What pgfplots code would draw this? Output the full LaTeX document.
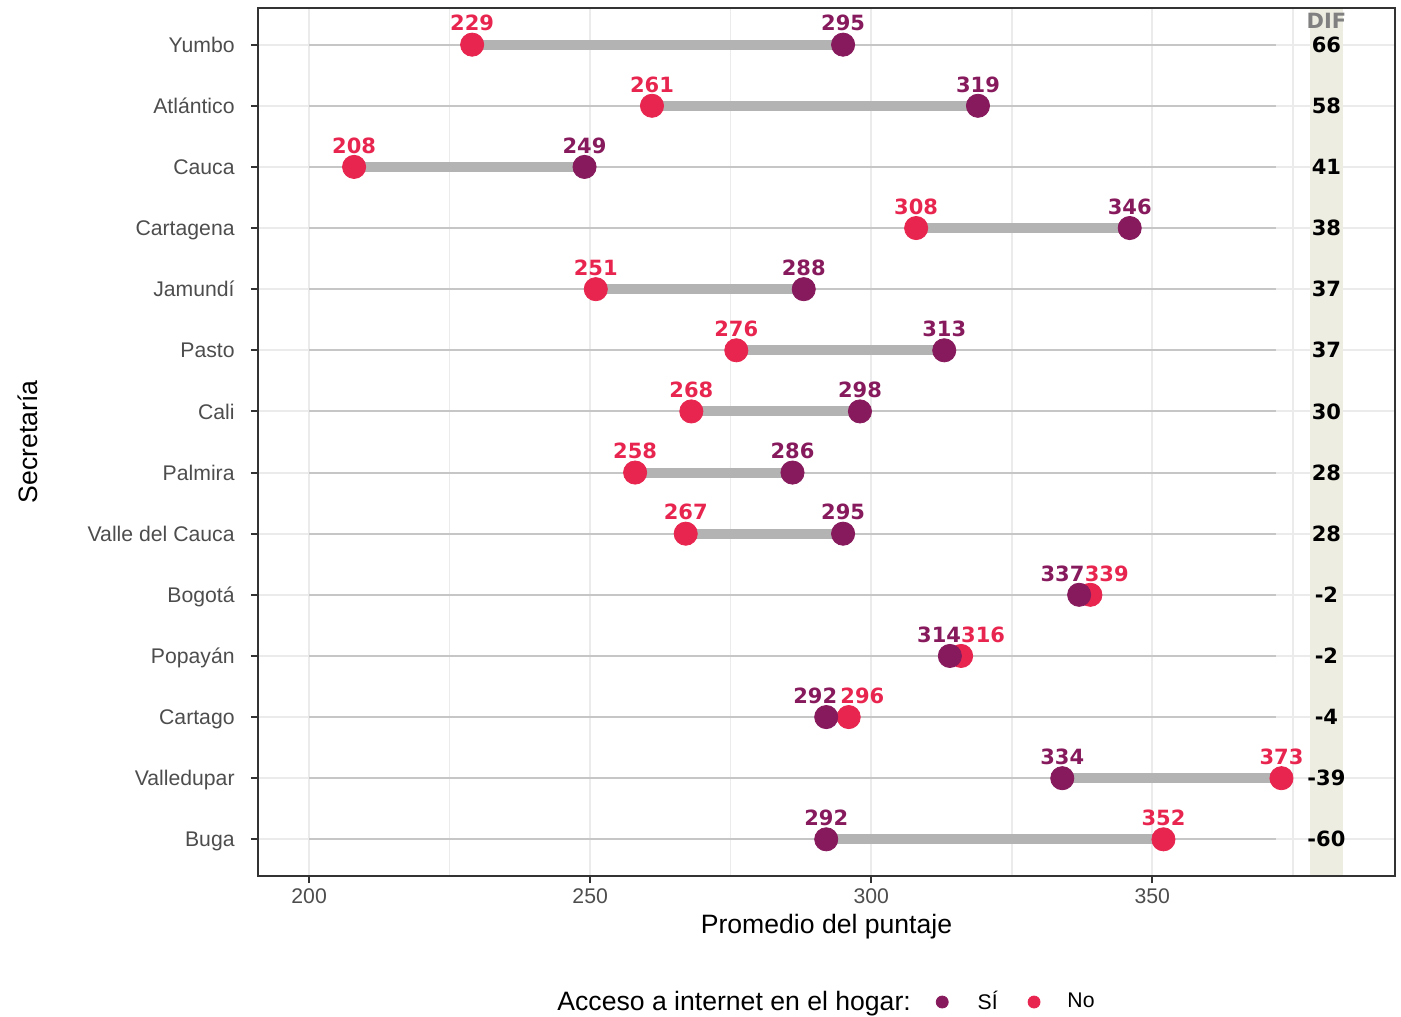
\documentclass[border=0pt]{standalone}
\usepackage{pgfplots}
\pgfplotsset{compat=1.18}
\usepackage{pgfplotstable}
\usepackage{fontspec}
\setmainfont{Liberation Sans}
\newfontfamily\lblfont{DejaVu Sans}
\usetikzlibrary{calc}
\definecolor{sicol}{HTML}{861A5C}
\definecolor{nocol}{HTML}{E8254F}
\definecolor{segcol}{HTML}{B3B3B3}
\definecolor{thincol}{HTML}{C6C6C6}
\definecolor{gridcol}{HTML}{EBEBEB}
\definecolor{bandcol}{HTML}{EDEDE1}
\definecolor{tickcol}{HTML}{4D4D4D}
\definecolor{framecol}{HTML}{333333}
\definecolor{difhead}{HTML}{808080}
\newcommand\ticksize{\fontsize{10.6pt}{12.7pt}\selectfont}
\newcommand\titlesize{\fontsize{13.3pt}{16pt}\selectfont}
\newcommand\lblsize{\lblfont\bfseries\fontsize{10.5pt}{12.6pt}\selectfont}

\pgfplotstableread{
y si no dif dxsi dxno
14 295 229 66 0 0
13 319 261 58 0 0
12 249 208 41 0 0
11 346 308 38 0 0
10 288 251 37 0 0
9 313 276 37 0 0
8 298 268 30 0 0
7 286 258 28 0 0
6 295 267 28 0 0
5 337 339 -2 -8.3 8.2
4 314 316 -2 -5.4 11
3 292 296 -4 -5.5 6.8
2 334 373 -39 0 0
1 292 352 -60 0 0
}\datatab

\pgfplotstableread{
x y
200 14
372 14
nan nan
200 13
372 13
nan nan
200 12
372 12
nan nan
200 11
372 11
nan nan
200 10
372 10
nan nan
200 9
372 9
nan nan
200 8
372 8
nan nan
200 7
372 7
nan nan
200 6
372 6
nan nan
200 5
372 5
nan nan
200 4
372 4
nan nan
200 3
372 3
nan nan
200 2
372 2
nan nan
200 1
372 1
}\thintab

\pgfplotstableread{
x y
229 14
295 14
nan nan
261 13
319 13
nan nan
208 12
249 12
nan nan
308 11
346 11
nan nan
251 10
288 10
nan nan
276 9
313 9
nan nan
268 8
298 8
nan nan
258 7
286 7
nan nan
267 6
295 6
nan nan
337 5
339 5
nan nan
314 4
316 4
nan nan
292 3
296 3
nan nan
334 2
373 2
nan nan
292 1
352 1
}\segtab

\begin{document}
\begin{tikzpicture}
\begin{axis}[name=ax, scale only axis, width=568.5pt, height=434pt,
  xmin=190.9, xmax=393.2, ymin=0.4, ymax=14.6,
  xtick={200,250,300,350}, minor xtick={225,275,325,375},
  ytick={1,...,14},
  yticklabels={Buga,Valledupar,Cartago,Popayán,Bogotá,Valle del Cauca,Palmira,Cali,Pasto,Jamundí,Cartagena,Cauca,Atlántico,Yumbo},
  xmajorgrids, xminorgrids, ymajorgrids,
  major grid style={gridcol, line width=1pt},
  minor grid style={gridcol, line width=0.8pt},
  axis line style={framecol, line width=1pt},
  tick style={framecol, line width=1pt},
  tick align=outside, major tick length=3.5pt, minor tick length=0pt,
  xtick pos=bottom, ytick pos=left,
  /pgf/number format/assume math mode=true,
  /pgf/number format/1000 sep={},
  ticklabel style={font=\ticksize, text=tickcol, inner sep=0pt},
  xticklabel style={yshift=-2.5pt},
  yticklabel style={xshift=-8pt, text height=7.6pt, text depth=0pt},
  xlabel={Promedio del puntaje}, ylabel={Secretaría},
  label style={font=\titlesize, text=black},
  xlabel style={at={(axis description cs:0.5,-0.0585)}, anchor=center},
  ylabel style={at={(axis description cs:-0.2023,0.5)}, anchor=center},
  legend columns=-1,
  legend style={at={(axis description cs:0.263,-0.1452)}, anchor=west, draw=none, fill=none, inner sep=0pt,
    font=\ticksize, text=black, nodes={inner sep=0pt},
    /tikz/column 1/.style={column sep=0pt},
    /tikz/column 2/.style={column sep=12.5pt},
    /tikz/column 3/.style={column sep=14.5pt},
    /tikz/column 4/.style={column sep=15pt},
    /tikz/column 5/.style={column sep=13.5pt}},
]
% DIF band
\addplot[fill=bandcol, draw=none, forget plot] coordinates {(378.1,0.41) (384,0.41) (384,14.59) (378.1,14.59)} -- cycle;
% thin reference lines
\addplot[thincol, line width=1pt, unbounded coords=jump, forget plot] table[x=x, y=y] {\thintab};
% thick segments
\addplot[segcol, line width=5pt, unbounded coords=jump, forget plot] table[x=x, y=y] {\segtab};
% No
\addplot[only marks, mark=*, mark size=5.8pt, color=nocol, mark options={draw=none, fill=nocol}, forget plot,
  point meta=explicit symbolic,
  visualization depends on={\thisrow{dxno} \as \dx},
  nodes near coords,
  every node near coord/.append style={anchor=south, inner sep=0pt, yshift=6.5pt, xshift=\dx pt, font=\lblsize, text=nocol}]
  table[x=no, y=y, meta=no] {\datatab};
% Si
\addplot[only marks, mark=*, mark size=5.8pt, color=sicol, mark options={draw=none, fill=sicol}, forget plot,
  point meta=explicit symbolic,
  visualization depends on={\thisrow{dxsi} \as \dx},
  nodes near coords,
  every node near coord/.append style={anchor=south, inner sep=0pt, yshift=6.5pt, xshift=\dx pt, font=\lblsize, text=sicol}]
  table[x=si, y=y, meta=si] {\datatab};
% DIF values
\addplot[draw=none, mark=none, forget plot,
  point meta=explicit symbolic,
  nodes near coords,
  every node near coord/.append style={anchor=center, inner sep=0pt, font=\lblsize, text=black}]
  table[x expr=381, y=y, meta=dif] {\datatab};
\node[font=\lblsize, text=difhead, inner sep=0pt] at (axis cs:381,14.39) {DIF};
% legend
\addlegendimage{empty legend}
\addlegendentry{\titlesize Acceso a internet en el hogar:}
\addlegendimage{legend image code/.code={\fill[sicol] (0pt,0pt) circle (3pt);}}
\addlegendentry{SÍ}
\addlegendimage{legend image code/.code={\fill[nocol] (0pt,0pt) circle (3pt);}}
\addlegendentry{No}
\end{axis}
\pgfresetboundingbox
\path[use as bounding box] ($(ax.south west)+(-129pt,-70pt)$) rectangle ($(ax.north east)+(3pt,4pt)$);
\end{tikzpicture}
\end{document}
